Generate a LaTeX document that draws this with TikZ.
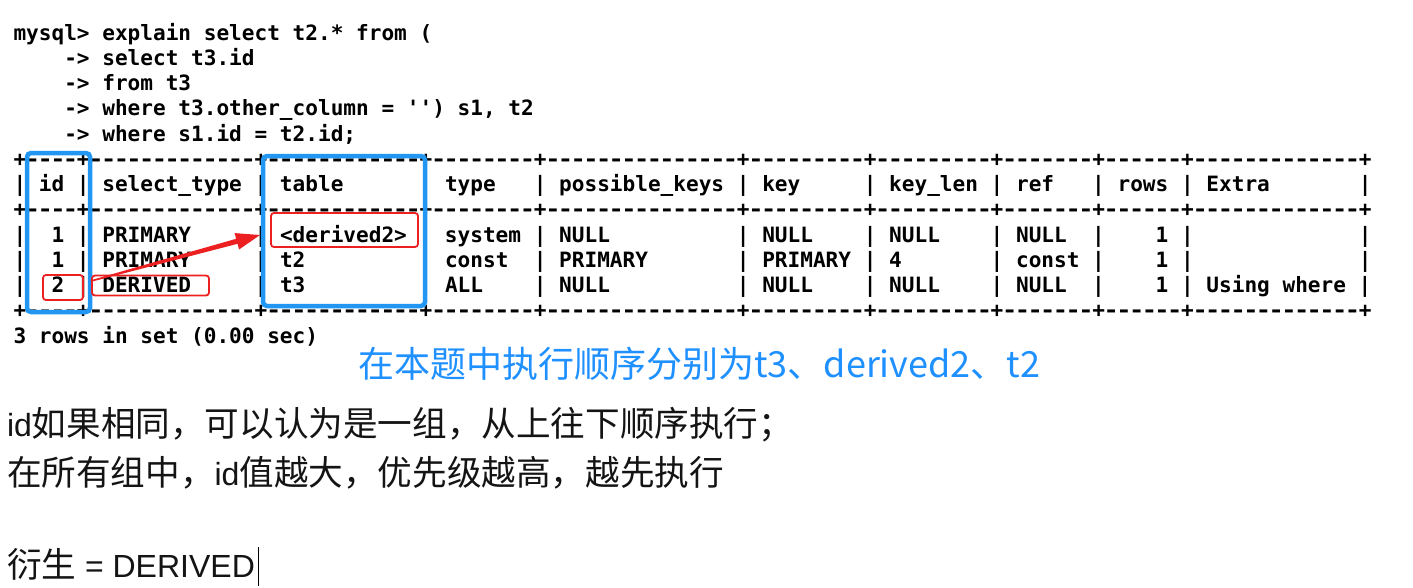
\documentclass[tikz,border=0pt]{standalone}
\usepackage{fontspec}
\setmainfont{Liberation Sans}
\newfontfamily\cjk{Noto Sans CJK SC}
\newfontfamily\term{DejaVu Sans Mono}
\usetikzlibrary{calc}
\definecolor{boxblue}{RGB}{33,150,243}
\definecolor{txtblue}{RGB}{30,144,255}
\definecolor{mred}{RGB}{236,32,32}
\definecolor{ink}{RGB}{20,20,20}
\newcommand\onedash{\makebox[\fontcharwd\font`\-][c]{\scalebox{1.2}[1]{-}}}
\newcommand\dsh[1]{\foreach\k in {1,...,#1}{\onedash}}
\newcommand\sepline{+\dsh{4}+\dsh{13}+\dsh{12}+\dsh{8}+\dsh{15}+\dsh{9}+\dsh{9}+\dsh{7}+\dsh{6}+\dsh{13}+}
\tikzset{
  termline/.style={anchor=base west, inner sep=0pt, outer sep=0pt, text=black,
    font=\term\bfseries\fontsize{21.08}{25}\selectfont},
  bluebox/.style={draw=boxblue, line width=4.5pt, rounded corners=4pt, inner sep=0pt},
  redbox/.style={draw=mred, line width=1.8pt, rounded corners=3pt, inner sep=0pt},
  plaintext/.style={anchor=base west, inner sep=0pt, outer sep=0pt, text=ink,
    font=\fontsize{32}{40}\selectfont},
}
\newcommand\cj[1]{{\cjk\fontsize{34.6}{40}\selectfont #1}}
\begin{document}
\frenchspacing
\begin{tikzpicture}[x=1pt,y=-1pt]
\fill[white] (0,0) rectangle (1413,587);
\useasboundingbox (0,0) rectangle (1413,587);

% terminal text
\node[termline] (l0) at (13.5,40) {mysql>~explain~select~t2.*~from~(};
\node[termline] (l1) at (13.5,65.25) {~~~~->~select~t3.id};
\node[termline] (l2) at (13.5,90.5) {~~~~->~from~t3};
\node[termline] (l3) at (13.5,115.75) {~~~~->~where~t3.other\_column~=~''{})~s1,~t2};
\node[termline] (l4) at (13.5,141) {~~~~->~where~s1.id~=~t2.id;};
\node[termline] (l5) at (13.5,166.25) {\sepline};
\node[termline] (l6) at (13.5,191.5) {|~id~|~select\_type~|~table~~~~~~|~type~~~|~possible\_keys~|~key~~~~~|~key\_len~|~ref~~~|~rows~|~Extra~~~~~~~|};
\node[termline] (l7) at (13.5,216.75) {\sepline};
\node[termline] (l8) at (13.5,242) {|~~1~|~PRIMARY~~~~~|~<derived2>~|~system~|~NULL~~~~~~~~~~|~NULL~~~~|~NULL~~~~|~NULL~~|~~~~1~|~~~~~~~~~~~~~|};
\node[termline] (l9) at (13.5,267.25) {|~~1~|~PRIMARY~~~~~|~t2~~~~~~~~~|~const~~|~PRIMARY~~~~~~~|~PRIMARY~|~4~~~~~~~|~const~|~~~~1~|~~~~~~~~~~~~~|};
\node[termline] (l10) at (13.5,292.5) {|~~2~|~DERIVED~~~~~|~t3~~~~~~~~~|~ALL~~~~|~NULL~~~~~~~~~~|~NULL~~~~|~NULL~~~~|~NULL~~|~~~~1~|~Using~where~|};
\node[termline] (l11) at (13.5,317.75) {\sepline};
\node[termline] (l12) at (13.5,343) {3~rows~in~set~(0.00~sec)};

% highlight boxes
\node[bluebox, minimum width=63pt, minimum height=159pt] (idbox) at (58.5,232.5) {};
\node[bluebox, minimum width=162pt, minimum height=150pt] (tablebox) at (344,231) {};
\node[redbox, minimum width=147pt, minimum height=34pt] (derivbox) at (344.5,230) {};
\node[redbox, minimum width=40pt, minimum height=25pt] (twobox) at (63,287.5) {};
\node[redbox, minimum width=117pt, minimum height=20pt] (derivedbox) at (150.5,285.5) {};

% red arrow
\coordinate (arrS) at (91,281);
\coordinate (arrE) at (260,235);
\coordinate (arrB) at ($(arrE)!24pt!(arrS)$);
\fill[mred] ($(arrS)!0.8pt!90:(arrE)$) -- ($(arrB)!2.6pt!90:(arrE)$) -- ($(arrB)!8.5pt!90:(arrE)$)
  -- (arrE) -- ($(arrB)!8.5pt!-90:(arrE)$) -- ($(arrB)!2.6pt!-90:(arrE)$)
  -- ($(arrS)!0.8pt!-90:(arrE)$) -- cycle;

% blue annotation
\node[anchor=base west, inner sep=0pt, text=txtblue, font=\cjk\fontsize{36}{42}\selectfont] (order) at (358,377) {在本题中执行顺序分别为t3、derived2、t2};

% notes
\node[plaintext] (rule1) at (7,436) {id\cj{如果相同，可以认为是一组，从上往下顺序执行；}};
\node[plaintext] (rule2) at (7,485) {\cj{在所有组中，}id\cj{值越大，优先级越高，越先执行}};
\node[plaintext] (deriv) at (7,577) {\cj{衍生} = DERIVED};
\coordinate (curT) at (258.5,547);
\coordinate (curB) at (258.5,586);
\draw[black, line width=1.5pt] (curT) -- (curB);
\end{tikzpicture}
\end{document}
